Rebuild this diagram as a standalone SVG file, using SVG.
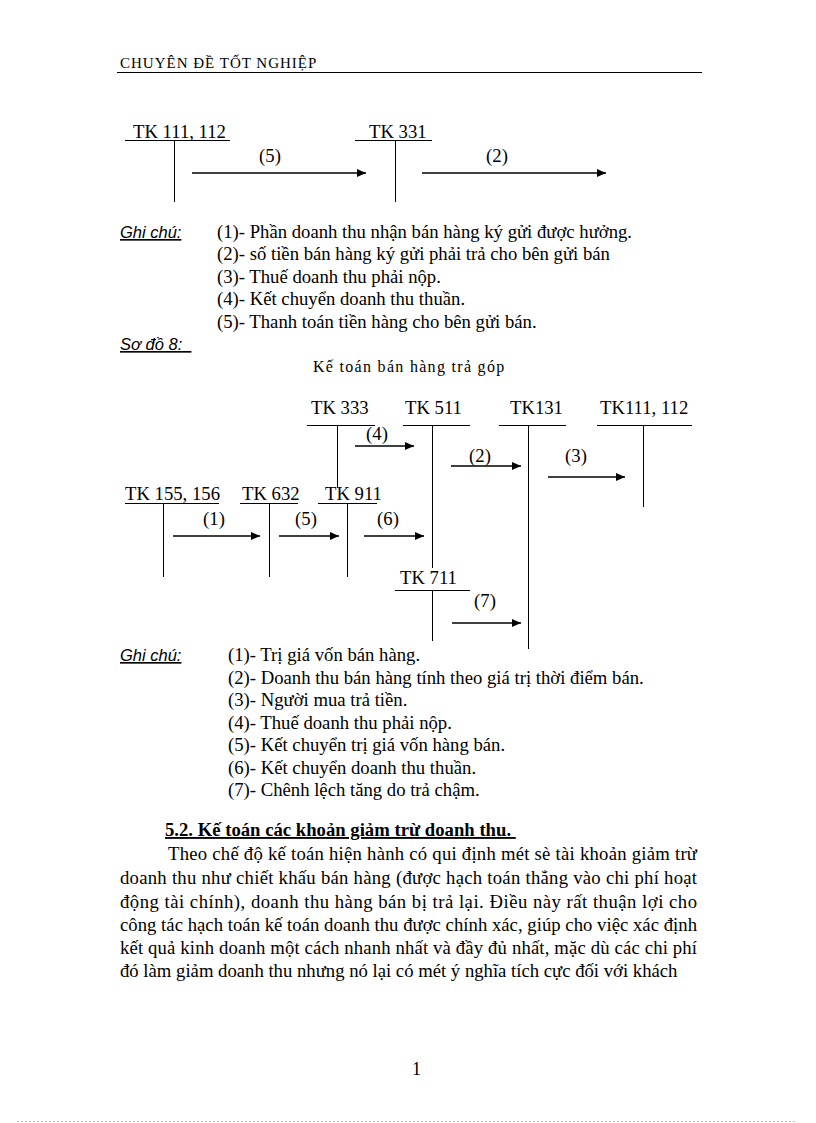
<svg xmlns="http://www.w3.org/2000/svg" width="816" height="1123" viewBox="0 0 816 1123">
<defs>
<marker id="ah" markerWidth="9" markerHeight="8" refX="9" refY="4" orient="auto" markerUnits="userSpaceOnUse">
<path d="M0,0 L9,4 L0,8 Z" fill="#000"/>
</marker>
</defs>
<style>
text{font-family:"Liberation Serif","Times New Roman",serif;fill:#000}
.t{font-size:18.7px}
.lb{font-size:18.7px}
.note{font-family:"Liberation Sans",Arial,sans-serif;font-style:italic;font-size:16.5px;text-decoration:underline}
.p{font-size:18.7px}
.ln{stroke:#000;stroke-width:1;fill:none}
.ar{stroke:#000;stroke-width:1.3;fill:none;marker-end:url(#ah)}
</style>
<rect width="816" height="1123" fill="#fff"/>
<!-- header -->
<text x="120" y="68" style="font-size:15px;letter-spacing:1px">CHUYÊN ĐỀ TỐT NGHIỆP</text>
<line x1="117" y1="72.5" x2="702" y2="72.5" stroke="#000" stroke-width="1.2"/>

<!-- diagram 1 -->
<g id="tk111_112_a">
<text class="t" x="133" y="138">TK 111, 112</text>
<line class="ln" x1="125" y1="140.5" x2="230" y2="140.5"/>
<line class="ln" x1="174.5" y1="141" x2="174.5" y2="202"/>
</g>
<g id="tk331">
<text class="t" x="369" y="138">TK 331</text>
<line class="ln" x1="355" y1="140.5" x2="432" y2="140.5"/>
<line class="ln" x1="395.5" y1="141" x2="395.5" y2="202"/>
</g>
<g id="connectors1">
<line class="ar" x1="192" y1="173" x2="366" y2="173"/>
<text class="lb" x="270" y="162" text-anchor="middle">(5)</text>
<line class="ar" x1="422" y1="173" x2="606" y2="173"/>
<text class="lb" x="497" y="162" text-anchor="middle">(2)</text>
</g>

<!-- notes 1 -->
<text class="note" x="120" y="238">Ghi chú:</text>
<text class="t" x="217" y="238">(1)- Phần doanh thu nhận bán hàng ký gửi được hưởng.</text>
<text class="t" x="217" y="260">(2)- số tiền bán hàng ký gửi phải trả cho bên gửi bán</text>
<text class="t" x="217" y="283">(3)- Thuế doanh thu phải nộp.</text>
<text class="t" x="217" y="305">(4)- Kết chuyển doanh thu thuần.</text>
<text class="t" x="217" y="328">(5)- Thanh toán tiền hàng cho bên gửi bán.</text>
<text class="note" x="120" y="350" xml:space="preserve">Sơ đồ 8:  </text>
<text x="313" y="372" style="font-size:16px;letter-spacing:1.3px">Kế toán bán hàng trả góp</text>

<!-- diagram 2 -->
<g id="tk333">
<text class="t" x="311" y="414">TK 333</text>
<line class="ln" x1="307" y1="425.5" x2="375" y2="425.5"/>
<line class="ln" x1="337.5" y1="426" x2="337.5" y2="488"/>
</g>
<g id="tk511">
<text class="t" x="405" y="414">TK 511</text>
<line class="ln" x1="403" y1="425.5" x2="470" y2="425.5"/>
<line class="ln" x1="432.5" y1="426" x2="432.5" y2="568"/>
</g>
<g id="tk131">
<text class="t" x="510" y="414">TK131</text>
<line class="ln" x1="499" y1="425.5" x2="566" y2="425.5"/>
<line class="ln" x1="528.5" y1="426" x2="528.5" y2="649"/>
</g>
<g id="tk111_112_b">
<text class="t" x="600" y="414">TK111, 112</text>
<line class="ln" x1="597" y1="425.5" x2="692" y2="425.5"/>
<line class="ln" x1="643.5" y1="426" x2="643.5" y2="507"/>
</g>
<g id="tk155_156">
<text class="t" x="125" y="500">TK 155, 156</text>
<line class="ln" x1="125" y1="503.5" x2="219" y2="503.5"/>
<line class="ln" x1="163.5" y1="504" x2="163.5" y2="577"/>
</g>
<g id="tk632">
<text class="t" x="242" y="500">TK 632</text>
<line class="ln" x1="240" y1="503.5" x2="298" y2="503.5"/>
<line class="ln" x1="269.5" y1="504" x2="269.5" y2="577"/>
</g>
<g id="tk911">
<text class="t" x="325" y="500">TK 911</text>
<line class="ln" x1="318" y1="503.5" x2="377" y2="503.5"/>
<line class="ln" x1="347.5" y1="504" x2="347.5" y2="577"/>
</g>
<g id="tk711">
<text class="t" x="400" y="584">TK 711</text>
<line class="ln" x1="395" y1="590.5" x2="470" y2="590.5"/>
<line class="ln" x1="432.5" y1="591" x2="432.5" y2="641"/>
</g>
<g id="connectors2">
<line class="ar" x1="355" y1="446" x2="414" y2="446"/>
<text class="lb" x="377" y="440" text-anchor="middle">(4)</text>
<line class="ar" x1="451" y1="466" x2="521" y2="466"/>
<text class="lb" x="480" y="462" text-anchor="middle">(2)</text>
<line class="ar" x1="548" y1="477" x2="625" y2="477"/>
<text class="lb" x="576" y="462" text-anchor="middle">(3)</text>
<line class="ar" x1="173" y1="536" x2="260" y2="536"/>
<text class="lb" x="214" y="525" text-anchor="middle">(1)</text>
<line class="ar" x1="279" y1="536" x2="339" y2="536"/>
<text class="lb" x="306" y="525" text-anchor="middle">(5)</text>
<line class="ar" x1="364" y1="536" x2="424" y2="536"/>
<text class="lb" x="388" y="525" text-anchor="middle">(6)</text>
<line class="ar" x1="452" y1="623" x2="521" y2="623"/>
<text class="lb" x="485" y="607" text-anchor="middle">(7)</text>
</g>

<!-- notes 2 -->
<text class="note" x="120" y="661">Ghi chú:</text>
<text class="t" x="228" y="661">(1)- Trị giá vốn bán hàng.</text>
<text class="t" x="228" y="684">(2)- Doanh thu bán hàng tính theo giá trị thời điểm bán.</text>
<text class="t" x="228" y="706">(3)- Người mua trả tiền.</text>
<text class="t" x="228" y="729">(4)- Thuế doanh thu phải nộp.</text>
<text class="t" x="228" y="751">(5)- Kết chuyển trị giá vốn hàng bán.</text>
<text class="t" x="228" y="774">(6)- Kết chuyển doanh thu thuần.</text>
<text class="t" x="228" y="796">(7)- Chênh lệch tăng do trả chậm.</text>

<!-- section 5.2 -->
<text x="165" y="836" style="font-size:18.7px;font-weight:bold;text-decoration:underline" xml:space="preserve">5.2. Kế toán các khoản giảm trừ doanh thu. </text>
<text class="p" x="168" y="860" textLength="529" lengthAdjust="spacing">Theo chế độ kế toán hiện hành có qui định mét sè tài khoản giảm trừ</text>
<text class="p" x="120" y="884" textLength="577" lengthAdjust="spacing">doanh thu như chiết khấu bán hàng (được hạch toán thẳng vào chi phí hoạt</text>
<text class="p" x="120" y="908" textLength="577" lengthAdjust="spacing">động tài chính), doanh thu hàng bán bị trả lại. Điều này rất thuận lợi cho</text>
<text class="p" x="120" y="931" textLength="577" lengthAdjust="spacing">công tác hạch toán kế toán doanh thu được chính xác, giúp cho việc xác định</text>
<text class="p" x="120" y="954" textLength="577" lengthAdjust="spacing">kết quả kinh doanh một cách nhanh nhất và đầy đủ nhất, mặc dù các chi phí</text>
<text class="p" x="120" y="977">đó làm giảm doanh thu nhưng nó lại có mét ý nghĩa tích cực đối với khách</text>

<text x="412" y="1075" style="font-size:18px">1</text>
<line x1="17" y1="1121.5" x2="797" y2="1121.5" stroke="#c8b8b8" stroke-width="1" stroke-dasharray="2,2"/>
</svg>
